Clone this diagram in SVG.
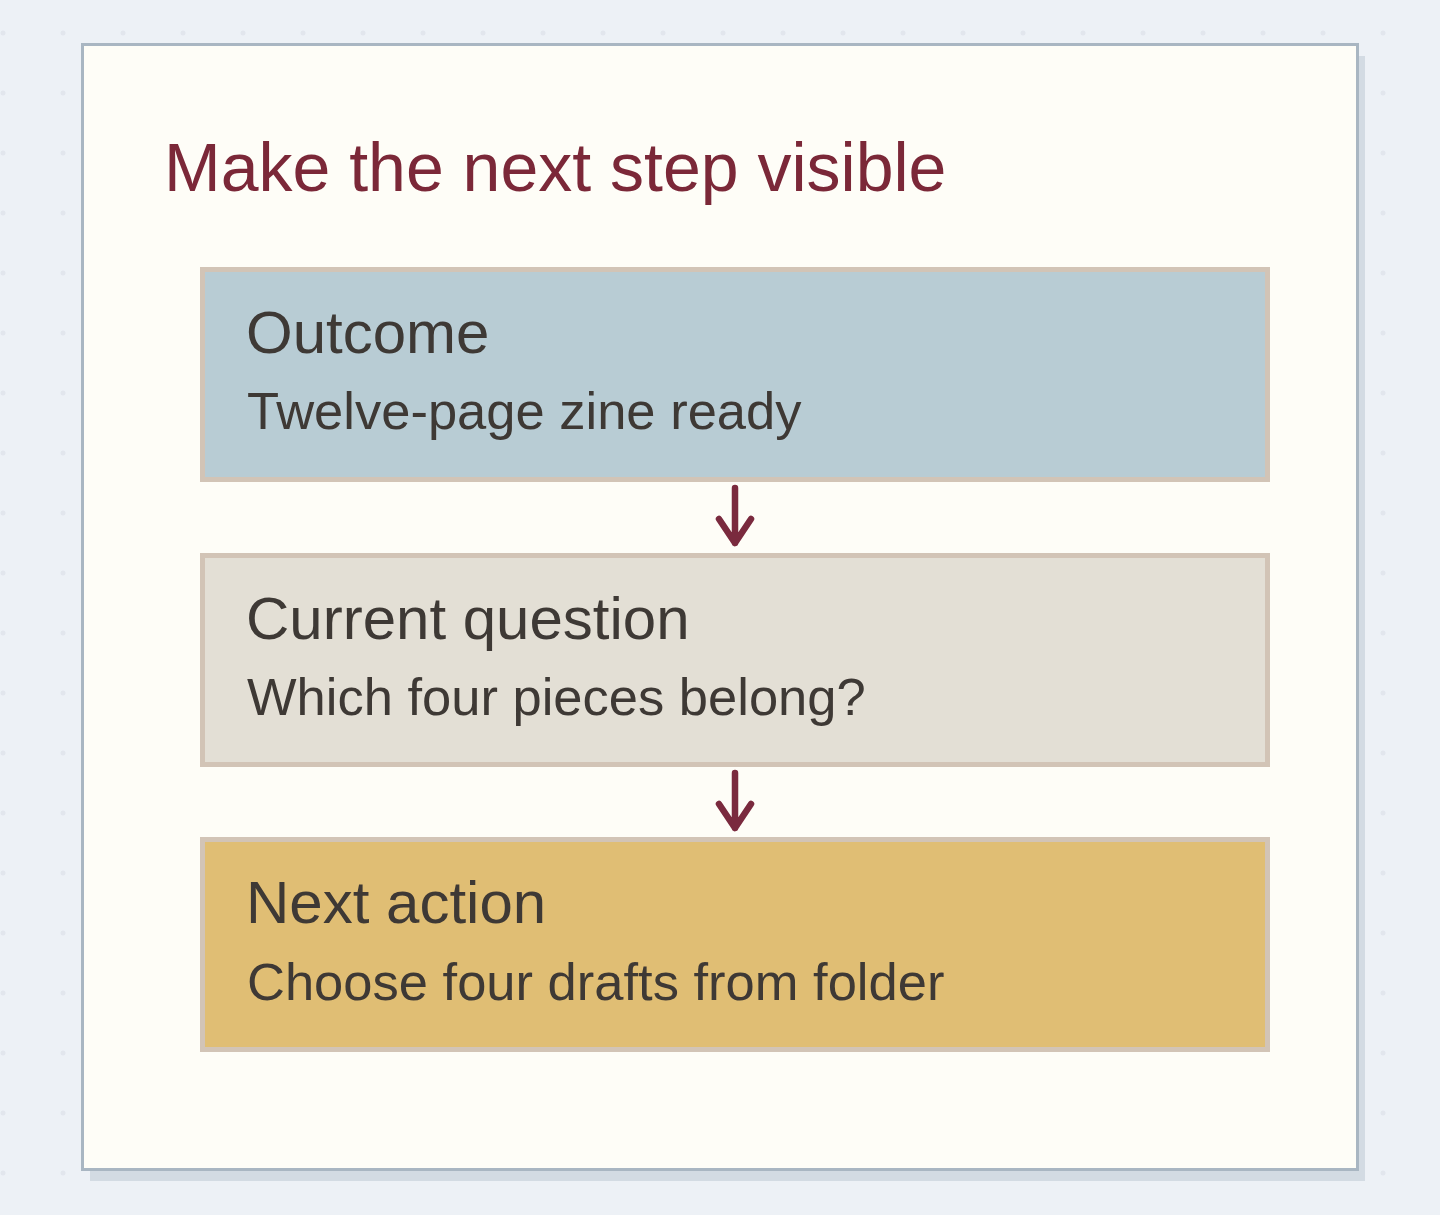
<svg xmlns="http://www.w3.org/2000/svg" width="1440" height="1215" viewBox="0 0 1440 1215">
  <defs>
    <pattern id="dots" x="-27" y="3" width="60" height="60" patternUnits="userSpaceOnUse">
      <circle cx="30" cy="30" r="2.5" fill="#e2e6ed"/>
    </pattern>
    <style>
      .box { stroke: #d2c4b6; stroke-width: 5; }
      .head { font-family: "Liberation Sans", Arial, sans-serif; font-size: 60px; fill: #3e3935; }
      .sub { font-family: "Liberation Sans", Arial, sans-serif; font-size: 52.5px; fill: #3e3935; }
      .arrow { fill: none; stroke: #7a2a3e; stroke-width: 6.5; stroke-linecap: round; stroke-linejoin: round; }
    </style>
  </defs>
  <rect x="0" y="0" width="1440" height="1215" fill="#edf1f6"/>
  <rect x="0" y="0" width="1440" height="1215" fill="url(#dots)"/>
  <g id="frame">
    <rect x="90" y="56" width="1275" height="1125" fill="#d3dbe3"/>
    <rect x="82.5" y="44.5" width="1275" height="1125" fill="#fefdf7" stroke="#a9b6c2" stroke-width="3"/>
    <text x="164" y="191" font-family="Liberation Sans, Arial, sans-serif" font-size="68" fill="#7b2838">Make the next step visible</text>
  </g>
  <g id="outcome">
    <rect class="box" x="202.5" y="269.5" width="1065" height="210" fill="#b8ccd4"/>
    <text class="head" x="246" y="353">Outcome</text>
    <text class="sub" x="247" y="429">Twelve-page zine ready</text>
  </g>
  <g id="question">
    <rect class="box" x="202.5" y="555.5" width="1065" height="209" fill="#e3dfd5"/>
    <text class="head" x="246" y="639">Current question</text>
    <text class="sub" x="247" y="715">Which four pieces belong?</text>
  </g>
  <g id="action">
    <rect class="box" x="202.5" y="839.5" width="1065" height="210" fill="#e0be74"/>
    <text class="head" x="246" y="923">Next action</text>
    <text class="sub" x="247" y="1000">Choose four drafts from folder</text>
  </g>
  <g id="connectors">
    <path class="arrow" d="M735 488 L735 543 M719 519 L735 543 L751 519"/>
    <path class="arrow" d="M735 773 L735 828 M719 804 L735 828 L751 804"/>
  </g>
</svg>
